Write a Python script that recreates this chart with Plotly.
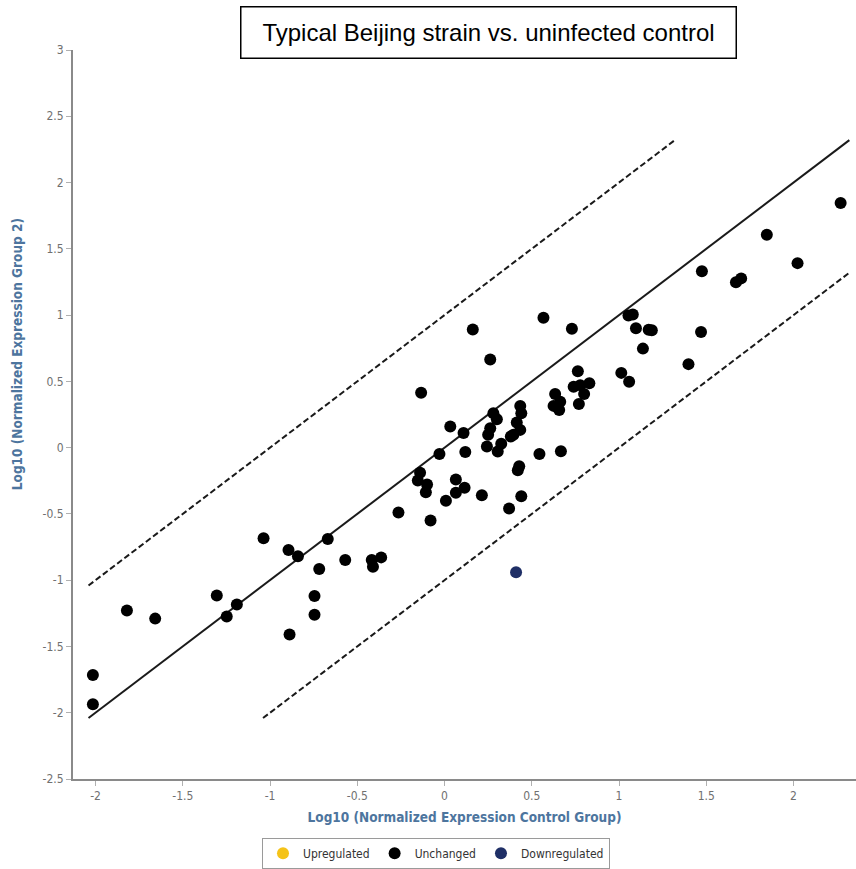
import plotly.graph_objects as go

# ---- data ----
unchanged_x = [-2.015, -2.015, -1.82, -1.658, -1.305, -1.248, -1.19, -1.037, -0.894, -0.84,
               -0.888, -0.669, -0.718, -0.745, -0.745, -0.569, -0.417, -0.41, -0.363, -0.264,
               -0.08, 0.008, -0.14, -0.153, -0.10, -0.107, 0.065, 0.115, 0.065, 0.214,
               0.44, 0.37, -0.134, 0.162, 0.567, 0.73, 0.262, 0.033, 0.109, -0.029,
               0.119, 0.544, 0.667, 0.428, 0.42, 0.243, 0.325, 0.305, 0.262, 0.25,
               0.28, 0.30, 0.434, 0.44, 0.414, 0.434, 0.395, 0.38, 0.634, 0.625,
               0.663, 0.657, 0.764, 0.74, 0.778, 0.83, 0.80, 0.77, 1.054, 1.079,
               1.097, 1.17, 1.188, 1.47, 1.137, 1.398, 1.013, 1.058, 2.27, 1.847,
               2.023, 1.67, 1.70, 1.475]
unchanged_y = [-1.716, -1.936, -1.229, -1.29, -1.116, -1.274, -1.184, -0.683, -0.773, -0.82,
               -1.409, -0.69, -0.916, -1.12, -1.26, -0.848, -0.848, -0.898, -0.828, -0.49,
               -0.55, -0.40, -0.19, -0.248, -0.278, -0.336, -0.24, -0.303, -0.34, -0.36,
               -0.366, -0.46, 0.414, 0.892, 0.98, 0.897, 0.665, 0.159, 0.11, -0.048,
               -0.033, -0.048, -0.028, -0.141, -0.171, 0.009, 0.03, -0.03, 0.147, 0.097,
               0.26, 0.215, 0.314, 0.26, 0.19, 0.134, 0.097, 0.084, 0.405, 0.315,
               0.347, 0.284, 0.577, 0.46, 0.47, 0.485, 0.405, 0.33, 0.997, 1.005,
               0.90, 0.89, 0.885, 0.872, 0.747, 0.63, 0.564, 0.497, 1.845, 1.607,
               1.392, 1.247, 1.277, 1.33]
down_x = [0.41]
down_y = [-0.94]
up_x = [None]   # no upregulated genes
up_y = [None]

# reference lines (identity and +/- 1 log10 fold)
diag_x = [-2.04, 2.32]
diag_y = [-2.04, 2.32]
upper_x = [-2.04, 1.32]
upper_y = [-1.04, 2.32]
lower_x = [-1.04, 2.32]
lower_y = [-2.04, 1.32]

x_tickvals = [-2, -1.5, -1, -0.5, 0, 0.5, 1, 1.5, 2]
x_ticktext = ["-2", "-1.5", "-1", "-0.5", "0", "0.5", "1", "1.5", "2"]
y_tickvals = [-2.5, -2, -1.5, -1, -0.5, 0, 0.5, 1, 1.5, 2, 2.5, 3]
y_ticktext = ["-2.5", "-2", "-1.5", "-1", "-0.5", "0", "0.5", "1", "1.5", "2", "2.5", "3"]

title_text = "Typical Beijing strain vs. uninfected control"
x_title = "Log10 (Normalized Expression Control Group)"
y_title = "Log10 (Normalized Expression Group 2)"

# ---- figure ----
W, H = 856, 869
ML, MR, MT, MB = 73, 0, 50, 88
PW, PH = W - ML - MR, H - MT - MB

def px_x(p):
    return (p - ML) / PW

def px_y(p):
    return (H - MB - p) / PH

FONT = "DejaVu Sans Condensed, Liberation Sans Narrow, DejaVu Sans, sans-serif"

fig = go.Figure()
fig.add_trace(go.Scatter(x=diag_x, y=diag_y, mode="lines", showlegend=False,
                         line=dict(color="#1a1a1a", width=2), hoverinfo="skip"))
fig.add_trace(go.Scatter(x=upper_x, y=upper_y, mode="lines", showlegend=False,
                         line=dict(color="#1a1a1a", width=2, dash="6px,3px"), hoverinfo="skip"))
fig.add_trace(go.Scatter(x=lower_x, y=lower_y, mode="lines", showlegend=False,
                         line=dict(color="#1a1a1a", width=2, dash="6px,3px"), hoverinfo="skip"))
fig.add_trace(go.Scatter(x=up_x, y=up_y, mode="markers", name="Upregulated",
                         marker=dict(color="#f5c318", size=12)))
fig.add_trace(go.Scatter(x=unchanged_x, y=unchanged_y, mode="markers", name="Unchanged",
                         marker=dict(color="#000000", size=12)))
fig.add_trace(go.Scatter(x=down_x, y=down_y, mode="markers", name="Downregulated",
                         marker=dict(color="#1f2f66", size=12)))

fig.update_layout(
    width=W, height=H,
    margin=dict(l=ML, r=MR, t=MT, b=MB),
    paper_bgcolor="white", plot_bgcolor="white",
    showlegend=True,
    legend=dict(orientation="h", x=px_x(436), xanchor="center", y=px_y(840), yanchor="top",
                bgcolor="white", bordercolor="#9a9a9a", borderwidth=1,
                font=dict(family=FONT, size=12, color="#333333"),
                itemsizing="constant", traceorder="normal"),
    xaxis=dict(range=[-2.129, 2.358], tickvals=x_tickvals, ticktext=x_ticktext,
               showgrid=False, zeroline=False, showline=True, linecolor="#8a8a8a", linewidth=2,
               ticks="outside", ticklen=5, tickcolor="#b0b0b0", tickwidth=1,
               tickfont=dict(family=FONT, size=12, color="#707070"),
               title=dict(text="<b>" + x_title + "</b>", standoff=10,
                          font=dict(family=FONT, size=13.5, color="#4d759e"))),
    yaxis=dict(range=[-2.5, 3], tickvals=y_tickvals, ticktext=y_ticktext,
               showgrid=False, zeroline=False, showline=True, linecolor="#8a8a8a", linewidth=2,
               ticks="outside", ticklen=5, tickcolor="#b0b0b0", tickwidth=1,
               tickfont=dict(family=FONT, size=12, color="#707070")),
    annotations=[
        dict(text=title_text, xref="paper", yref="paper", x=px_x(488.5), y=px_y(32.5),
             xanchor="center", yanchor="middle", showarrow=False,
             font=dict(family="Liberation Sans, Arial, sans-serif", size=24, color="black"),
             bgcolor="white", bordercolor="black", borderwidth=1.5, borderpad=0,
             width=494, height=50),
        dict(text="<b>" + y_title + "</b>", xref="paper", yref="paper", x=px_x(17), y=px_y(355),
             xanchor="center", yanchor="middle", showarrow=False, textangle=-90,
             font=dict(family=FONT, size=13.5, color="#4d759e")),
    ],
)

fig.write_html("out.html")
